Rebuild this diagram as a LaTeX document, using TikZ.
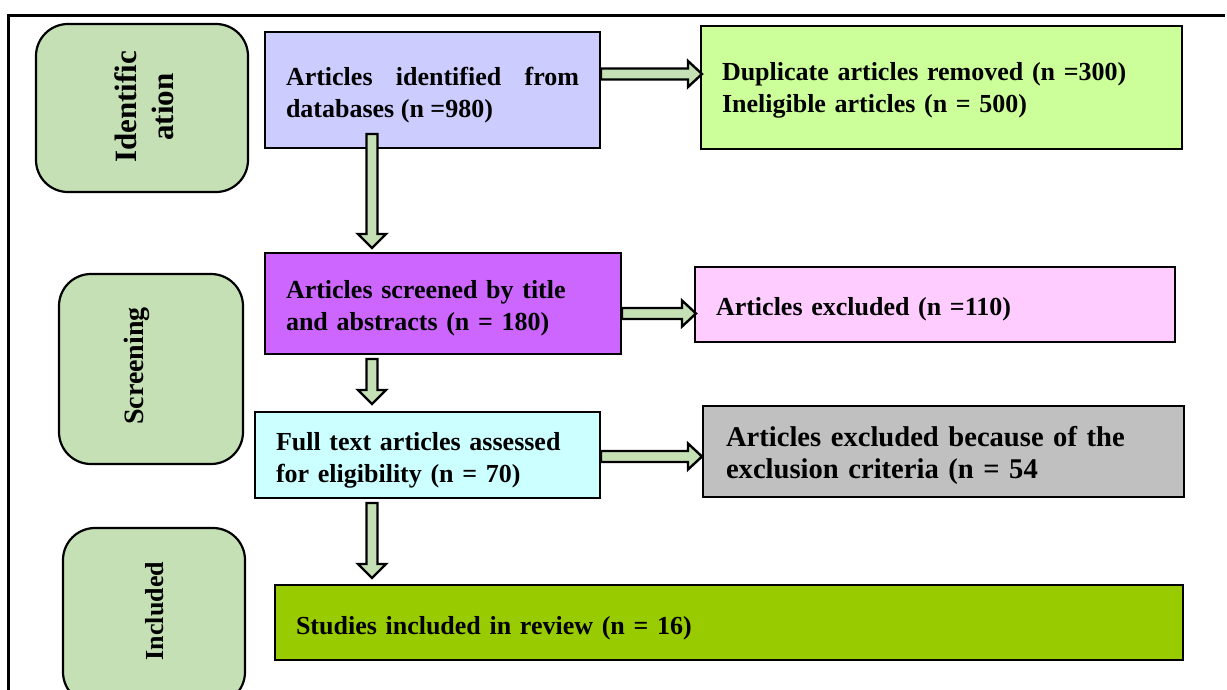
\documentclass[tikz,border=0pt]{standalone}
\usepackage{fontspec}
\setmainfont{Liberation Serif}
\usetikzlibrary{calc}
\definecolor{sidegreen}{RGB}{197,224,180}
\definecolor{lavender}{RGB}{204,204,255}
\definecolor{lightlime}{RGB}{204,255,153}
\definecolor{violetbox}{RGB}{204,102,255}
\definecolor{pinkbox}{RGB}{255,204,255}
\definecolor{cyanbox}{RGB}{204,255,255}
\definecolor{graybox}{RGB}{192,192,192}
\definecolor{olivebox}{RGB}{153,204,0}
\newcommand\harr[2]{\draw[blk] let \p1=#1, \p2=#2 in
  (\x1,\y1+5.5pt) -- (\x2-14pt,\y1+5.5pt) -- (\x2-14pt,\y1+13pt) -- (\x2,\y1)
  -- (\x2-14pt,\y1-13pt) -- (\x2-14pt,\y1-5.5pt) -- (\x1,\y1-5.5pt) -- cycle;}
\newcommand\varr[2]{\draw[blk] let \p1=#1, \p2=#2 in
  (\x1-5.5pt,\y1) -- (\x1-5.5pt,\y2+14pt) -- (\x1-14pt,\y2+14pt) -- (\x1,\y2)
  -- (\x1+14pt,\y2+14pt) -- (\x1+5.5pt,\y2+14pt) -- (\x1+5.5pt,\y1) -- cycle;}
\begin{document}
\begin{tikzpicture}[x=1pt,y=-1pt,
  box/.style={draw=black, line width=2pt, inner sep=0pt},
  boxtext/.style={inner sep=0pt, font=\bfseries\fontsize{26}{32}\selectfont, align=left},
  sidebox/.style={draw=black, line width=2.2pt, fill=sidegreen, rounded corners=32pt},
  sidelabel/.style={rotate=90, font=\bfseries, align=center, inner sep=0pt},
  blk/.style={draw=black, line width=2.4pt, fill=sidegreen, line join=miter}]
\useasboundingbox (0,0) rectangle (1227,689);
\clip (0,0) rectangle (1227,689);
% frame
\draw[line width=3pt] (8,700) -- (8,15) -- (1225,15);
% side boxes
\node[sidebox, minimum width=212pt, minimum height=168pt] (I) at (142,108) {};
\node[sidebox, minimum width=184pt, minimum height=190pt] (S) at (151,369) {};
\node[sidebox, minimum width=182pt, minimum height=176pt] (N) at (154,616) {};
\node[sidelabel, font=\bfseries\fontsize{31}{37}\selectfont] (Il) at ($(I)+(2,-1)$) {Identific\\ation};
\node[sidelabel, font=\bfseries\fontsize{28}{34}\selectfont] (Sl) at ($(S)+(-14,-3)$) {Screening};
\node[sidelabel, font=\bfseries\fontsize{26}{32}\selectfont] (Nl) at ($(N)+(1,-5)$) {Included};
% main boxes
\node[box, fill=lavender,  minimum width=335pt, minimum height=116pt] (A) at (432.5,90) {};
\node[box, fill=lightlime, minimum width=481pt, minimum height=123pt] (B) at (941.5,87.5) {};
\node[box, fill=violetbox, minimum width=356pt, minimum height=101pt] (C) at (443,303.5) {};
\node[box, fill=pinkbox,   minimum width=480pt, minimum height=75pt]  (D) at (935,304.5) {};
\node[box, fill=cyanbox,   minimum width=345pt, minimum height=86pt]  (E) at (427.5,455) {};
\node[box, fill=graybox,   minimum width=481pt, minimum height=91pt]  (F) at (943.5,451.5) {};
\node[box, fill=olivebox,  minimum width=908pt, minimum height=75pt]  (G) at (729,622.5) {};
% texts
\node[boxtext, text width=293pt, align=justify] (At) at ($(A)+(0,5.5)$)
  {Articles identified from databases (n =980)};
\node[boxtext, text width=439pt] (Bt) at ($(B)+(0,3)$)
  {Duplicate articles removed (n =300)\\Ineligible articles (n = 500)};
\node[boxtext, text width=314pt] (Ct) at ($(C)+(0,5)$)
  {Articles screened by title\\and abstracts (n = 180)};
\node[boxtext, text width=438pt] (Dt) at ($(D)+(0,4.5)$)
  {Articles excluded (n =110)};
\node[boxtext, text width=303pt] (Et) at ($(E)+(0,5)$)
  {Full text articles assessed\\for eligibility (n = 70)};
\node[boxtext, text width=435pt, font=\bfseries\fontsize{28.6}{32}\selectfont] (Ft) at ($(F)+(0,4)$)
  {Articles excluded because of the\\exclusion criteria (n = 54};
\node[boxtext, text width=866pt] (Gt) at ($(G)+(0,5.5)$)
  {Studies included in review (n = 16)};
% arrows
\harr{($(A.east)+(0,-16)$)}{($(B.west)+(2,0)$)}
\harr{($(C.east)+(0,10)$)}{($(D.west)+(2,0)$)}
\harr{($(E.east)+(0,1.5)$)}{($(F.west)+(0,0)$)}
\varr{($(A.south)+(-60.5,-15)$)}{($(C.north)+(0,-4)$)}
\varr{($(C.south)+(-71,4)$)}{($(E.north)+(0,-7)$)}
\varr{($(E.south)+(-55.5,4)$)}{($(G.north)+(0,-6)$)}
\end{tikzpicture}
\end{document}
